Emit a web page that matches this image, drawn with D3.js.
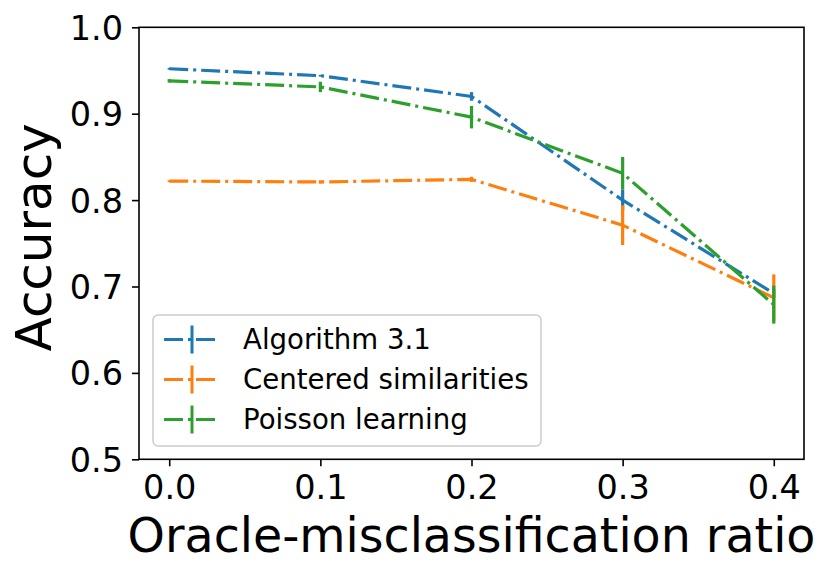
<!DOCTYPE html>
<html>
<head>
<meta charset="utf-8">
<script src="https://cdn.jsdelivr.net/npm/d3@7"></script>
<style>
  body { margin: 0; background: #fff; }
  text { font-family: "DejaVu Sans", sans-serif; fill: #000; }
</style>
</head>
<body>
<div id="chart"></div>
<script>
// data
const ratios = [0.0, 0.1, 0.2, 0.3, 0.4];
const seriesNames = ["Algorithm 3.1", "Centered similarities", "Poisson learning"];
const algoMean = [0.952, 0.944, 0.920, 0.800, 0.692];
const algoErr = [0.001, 0.001, 0.005, 0.012, 0.005];
const centeredMean = [0.822, 0.821, 0.824, 0.771, 0.687];
const centeredErr = [0.001, 0.002, 0.003, 0.023, 0.027];
const poissonMean = [0.938, 0.931, 0.896, 0.831, 0.679];
const poissonErr = [0.002, 0.006, 0.013, 0.019, 0.022];
const xTicks = [0.0, 0.1, 0.2, 0.3, 0.4];
const yTicks = [0.5, 0.6, 0.7, 0.8, 0.9, 1.0];

const colors = ["#1f77b4", "#ff7f0e", "#2ca02c"];
const series = [
  { name: seriesNames[0], mean: algoMean, err: algoErr, color: colors[0] },
  { name: seriesNames[1], mean: centeredMean, err: centeredErr, color: colors[1] },
  { name: seriesNames[2], mean: poissonMean, err: poissonErr, color: colors[2] }
];

const width = 831, height = 577;
const plot = { left: 139, right: 804, top: 27.3, bottom: 459.3 };
const dash = "19,5,3,5";

const svg = d3.select("#chart")
  .append("svg")
  .attr("width", width)
  .attr("height", height);

const x = d3.scaleLinear().domain([-0.02, 0.42]).range([plot.left, plot.right]);
const y = d3.scaleLinear().domain([0.5, 1.0]).range([plot.bottom, plot.top]);

// axes
const xAxis = svg.append("g")
  .attr("transform", `translate(0, ${plot.bottom})`)
  .call(d3.axisBottom(x).tickValues(xTicks).tickFormat(d3.format(".1f")).tickSize(7).tickPadding(9));
const yAxis = svg.append("g")
  .attr("transform", `translate(${plot.left}, 0)`)
  .call(d3.axisLeft(y).tickValues(yTicks).tickFormat(d3.format(".1f")).tickSize(7).tickPadding(9));

[xAxis, yAxis].forEach(g => {
  g.select(".domain").remove();
  g.selectAll(".tick line").attr("stroke", "#000").attr("stroke-width", 1.6);
  g.selectAll(".tick text").style("font-size", "33.5px").attr("fill", "#000");
});
yAxis.selectAll(".tick text").attr("dy", "0.36em");
xAxis.selectAll(".tick text").attr("dy", "0.71em");

// series lines + error bars
const line = d3.line().x(d => x(d.x)).y(d => y(d.y));

series.forEach(s => {
  const pts = ratios.map((r, i) => ({ x: r, y: s.mean[i], e: s.err[i] }));
  svg.append("path")
    .datum(pts)
    .attr("d", line)
    .attr("fill", "none")
    .attr("stroke", s.color)
    .attr("stroke-width", 3.2)
    .attr("stroke-dasharray", dash);
  svg.selectAll(null)
    .data(pts)
    .enter()
    .append("line")
    .attr("x1", d => x(d.x))
    .attr("x2", d => x(d.x))
    .attr("y1", d => y(d.y - d.e))
    .attr("y2", d => y(d.y + d.e))
    .attr("stroke", s.color)
    .attr("stroke-width", 3.2);
});

// frame
svg.append("rect")
  .attr("x", plot.left)
  .attr("y", plot.top)
  .attr("width", plot.right - plot.left)
  .attr("height", plot.bottom - plot.top)
  .attr("fill", "none")
  .attr("stroke", "#000")
  .attr("stroke-width", 1.6);

// legend
const legend = svg.append("g");
legend.append("rect")
  .attr("x", 153)
  .attr("y", 315)
  .attr("width", 388)
  .attr("height", 131)
  .attr("rx", 5)
  .attr("fill", "#fff")
  .attr("fill-opacity", 0.8)
  .attr("stroke", "#cccccc")
  .attr("stroke-width", 1.5);

series.forEach((s, i) => {
  const cy = 339.5 + i * 40;
  legend.append("line")
    .attr("x1", 164).attr("x2", 220)
    .attr("y1", cy).attr("y2", cy)
    .attr("stroke", s.color)
    .attr("stroke-width", 3)
    .attr("stroke-dasharray", dash);
  legend.append("line")
    .attr("x1", 192).attr("x2", 192)
    .attr("y1", cy - 14).attr("y2", cy + 14)
    .attr("stroke", s.color)
    .attr("stroke-width", 3);
  legend.append("text")
    .attr("x", 243)
    .attr("y", cy)
    .attr("dy", "0.36em")
    .style("font-size", "27.6px")
    .text(s.name);
});

// axis titles
svg.append("text")
  .attr("x", (plot.left + plot.right) / 2)
  .attr("y", 552)
  .attr("text-anchor", "middle")
  .style("font-size", "47.5px")
  .text("Oracle-misclassification ratio");

svg.append("text")
  .attr("transform", `translate(51, ${(plot.top + plot.bottom) / 2 - 6}) rotate(-90)`)
  .attr("text-anchor", "middle")
  .style("font-size", "50px")
  .text("Accuracy");
</script>
</body>
</html>
